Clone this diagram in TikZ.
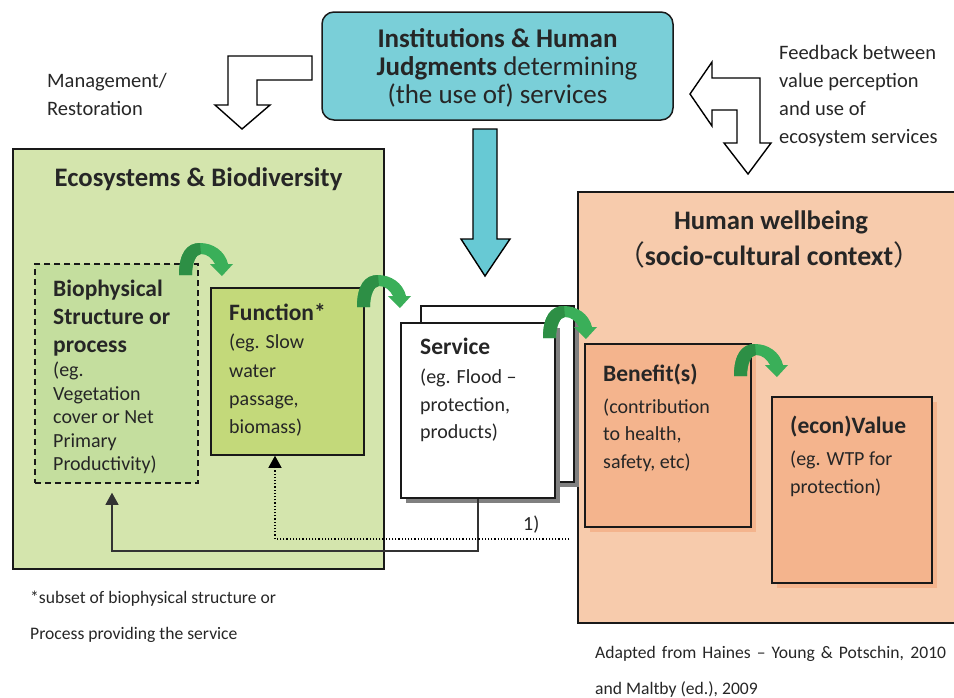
\documentclass[tikz,border=0pt]{standalone}
\usepackage{fontspec}
\setmainfont{Carlito}
\newfontfamily\cjk{Noto Sans CJK SC}
\usetikzlibrary{arrows.meta,shadows}

\definecolor{txt}{HTML}{262626}
\definecolor{instblue}{HTML}{7ACFD8}
\definecolor{arrblue}{HTML}{67C9D4}
\definecolor{ecogreen}{HTML}{D4E5AD}
\definecolor{biogreen}{HTML}{C4DE9E}
\definecolor{fungreen}{HTML}{C3D97A}
\definecolor{hwpeach}{HTML}{F7CBAC}
\definecolor{benpeach}{HTML}{F4B48D}
\definecolor{turngreen}{HTML}{3AAF59}
\definecolor{turndark}{HTML}{2D8F45}

\tikzset{
	box/.style={draw=black!90, line width=1.5pt, inner sep=0pt},
	grayshadow/.style={drop shadow={shadow xshift=5pt, shadow yshift=-5pt, fill=black!50, opacity=1}},
	peachshadow/.style={drop shadow={shadow xshift=5pt, shadow yshift=-5pt, fill=benpeach, opacity=1}},
	bigtitle/.style={font=\fontsize{26.7}{28}\selectfont\bfseries, text=txt, anchor=base, inner sep=0pt},
	toptext/.style={font=\fontsize{27}{28}\selectfont, text=txt, anchor=base, inner sep=0pt},
	boxtitle/.style={font=\fontsize{23.5}{28}\selectfont\bfseries, text=txt, anchor=base west, inner sep=0pt},
	boxtext/.style={font=\fontsize{20}{28}\selectfont, text=txt, anchor=base west, inner sep=0pt},
	note/.style={font=\fontsize{20.5}{28}\selectfont, text=txt, anchor=base west, inner sep=0pt},
	small/.style={font=\fontsize{17.6}{28}\selectfont, text=txt, anchor=base west, inner sep=0pt},
	outline/.style={draw=black, line width=1.4pt, fill=white, line join=miter},
	tip/.style={-{Triangle[length=12pt,width=13pt]}},
	turnarrow/.pic={
		\fill[turngreen] (0,0) .. controls (0,-22) and (8,-32) .. (21,-32)
			.. controls (34,-32) and (46,-24) .. (49,-11) -- (54,-11) -- (43,1) -- (31,-11) -- (36,-11)
			.. controls (33,-17) and (28,-21) .. (22,-21) .. controls (17,-21) and (13,-12) .. (13,0) -- cycle;
		\fill[turndark] (0,0) .. controls (0,-22) and (8,-32) .. (21,-32) -- (22,-21)
			.. controls (17,-21) and (13,-12) .. (13,0) -- cycle;
	}
}

\begin{document}
\begin{tikzpicture}[x=1pt, y=-1pt]
	\useasboundingbox (0,0) rectangle (954,697);

	% big frames
	\node[box, fill=hwpeach, minimum width=382pt, minimum height=431pt] (hw) at (769,407.5) {};
	\node[box, line width=1.8pt, fill=ecogreen, minimum width=371pt, minimum height=420pt] (eco) at (198.5,359) {};

	% top box and its arrows
	\node[box, rounded corners=12pt, fill=instblue, minimum width=351pt, minimum height=108pt] (inst) at (497.5,66) {};
	\node[bigtitle, font=\fontsize{27}{28}\selectfont\bfseries] (I1) at (497.5,47) {Institutions \& Human};
	\node[toptext] (I2) at (507,75) {\textbf{Judgments} determining};
	\node[toptext] (I3) at (497.5,103) {(the use of) services};
	\draw[outline, fill=arrblue] (473,129) -- (497,129) -- (497,239) -- (510,239) -- (485,276) -- (461,239) -- (473,239) -- cycle;
	\draw[outline] (312,56) -- (228,56) -- (228,105) -- (215,105) -- (242,129) -- (270,105) -- (257,105) -- (257,80) -- (312,80) -- cycle;
	\draw[outline] (690,94) -- (712,62) -- (712,78) -- (760,78) -- (760,143) -- (771,143) -- (748,174) -- (724,143) -- (737,143) -- (737,110) -- (712,110) -- (712,126) -- cycle;
	\node[note] (M1) at (47,87) {Management/};
	\node[note] (M2) at (47,115) {Restoration};
	\node[note] (F1) at (779,59) {Feedback between};
	\node[note] (F2) at (779,87) {value perception};
	\node[note] (F3) at (779,115) {and use of};
	\node[note] (F4) at (779,143) {ecosystem services};

	% ecosystems side
	\node[bigtitle] (E0) at (198.5,186) {Ecosystems \& Biodiversity};
	\node[box, fill=biogreen, dash pattern=on 6pt off 4pt] (bio) at (116.5,373.5) [minimum width=163pt, minimum height=219pt] {};
	\node[box, fill=fungreen, minimum width=153pt, minimum height=167pt] (func) at (287.5,371.5) {};
	\node[boxtitle] (B1) at (53,296) {Biophysical};
	\node[boxtitle] (B2) at (53,324) {Structure or};
	\node[boxtitle] (B3) at (53,352) {process};
	\node[boxtext] (B4) at (53,376) {(eg.};
	\node[boxtext] (B5) at (53,400) {Vegetation};
	\node[boxtext] (B6) at (53,423) {cover or Net};
	\node[boxtext] (B7) at (53,447) {Primary};
	\node[boxtext] (B8) at (53,470) {Productivity)};
	\node[boxtitle] (U1) at (229,320) {Function*};
	\node[boxtext] (U2) at (229,348) {(eg. Slow};
	\node[boxtext] (U3) at (229,377) {water};
	\node[boxtext] (U4) at (229,405) {passage,};
	\node[boxtext] (U5) at (229,433) {biomass)};

	% service stack
	\node[box, fill=white, grayshadow, minimum width=153pt, minimum height=176pt] (servback) at (497.5,394) {};
	\node[box, fill=white, grayshadow, minimum width=154pt, minimum height=175pt] (serv) at (478,410.5) {};
	\node[boxtitle] (S1) at (420,354) {Service};
	\node[boxtext] (S2) at (420,383) {(eg. Flood --};
	\node[boxtext] (S3) at (420,411) {protection,};
	\node[boxtext] (S4) at (420,438) {products)};

	% human wellbeing side
	\node[bigtitle] (H1) at (771,229) {Human wellbeing};
	\node[bigtitle, font=\fontsize{27.8}{28}\selectfont\bfseries] (H2) at (769,265) {{\cjk\mdseries （}socio-cultural context{\cjk\mdseries ）}};
	\node[box, fill=benpeach, peachshadow, minimum width=166pt, minimum height=183pt] (ben) at (668,435.5) {};
	\node[box, fill=benpeach, peachshadow, minimum width=160pt, minimum height=186pt] (val) at (852,490) {};
	\node[boxtitle] (N1) at (603,381) {Benefit(s)};
	\node[boxtext] (N2) at (603,413) {(contribution};
	\node[boxtext] (N3) at (603,440) {to health,};
	\node[boxtext] (N4) at (603,468) {safety, etc)};
	\node[boxtitle] (V1) at (790,433) {(econ)Value};
	\node[boxtext] (V2) at (790,465) {(eg. WTP for};
	\node[boxtext] (V3) at (790,493) {protection)};

	% turning arrows between the boxes
	\pic at (179,275) {turnarrow};
	\pic at (357,307) {turnarrow};
	\pic at (543,338) {turnarrow};
	\pic at (734,376) {turnarrow};

	% feedback lines back to the ecosystem
	\coordinate (low) at (112,551);
	\coordinate (dot) at (275,539);
	\draw[tip, line width=1.1pt, black!80] (serv.south) |- (low) -- (low |- bio.south) [shorten >=9pt];
	\draw[tip, line width=1.2pt, dotted] ([xshift=-8pt]hw.west |- dot) -- (dot) -- (dot |- func.south);
	\node[boxtext] (one) at (523,530) {1)};

	% notes
	\node[small] (T1) at (30,603) {*subset of biophysical structure or};
	\node[small] (T2) at (30,639) {Process providing the service};
	\node[small] (A1) at (595,658) {\makebox[351pt][s]{Adapted from Haines -- Young \& Potschin, 2010}};
	\node[small] (A2) at (595,694) {and Maltby (ed.), 2009};
\end{tikzpicture}
\end{document}
